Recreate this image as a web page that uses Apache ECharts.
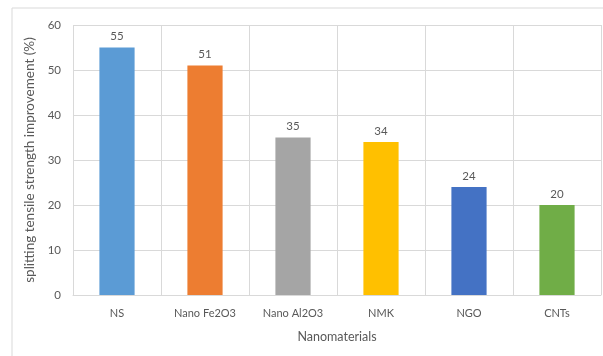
<!DOCTYPE html>
<html>
<head>
<meta charset="utf-8">
<script src="https://cdn.jsdelivr.net/npm/echarts@6/dist/echarts.min.js"></script>
<style>
  html, body { margin: 0; padding: 0; background: #fff; }
  #chart { width: 603px; height: 356px; }
</style>
</head>
<body>
<div id="chart"></div>
<script>
// Splitting tensile strength improvement by nanomaterial
const categories = ['NS', 'Nano Fe2O3', 'Nano Al2O3', 'NMK', 'NGO', 'CNTs'];
const improvement = [55, 51, 35, 34, 24, 20];
const barColors = ['#5B9BD5', '#ED7D31', '#A5A5A5', '#FFC000', '#4472C4', '#70AD47'];
const yTicks = { min: 0, max: 60, interval: 10 };

const font = 'Lato, "Open Sans", sans-serif';
const textColor = '#595959';
const gridColor = '#D9D9D9';

const chart = echarts.init(document.getElementById('chart'), null, { renderer: 'canvas' });

chart.setOption({
  animation: false,
  backgroundColor: '#ffffff',
  graphic: [{
    type: 'rect',
    shape: { x: 12, y: 8, width: 640, height: 400 },
    style: { fill: 'none', stroke: gridColor, lineWidth: 1 },
    silent: true,
    z: -1
  }],
  grid: { left: 73, right: 2, top: 25, bottom: 61 },
  xAxis: {
    type: 'category',
    data: categories,
    name: 'Nanomaterials',
    nameLocation: 'middle',
    nameGap: 35,
    nameTextStyle: { color: textColor, fontFamily: font, fontSize: 12.5 },
    axisLine: { show: true, lineStyle: { color: gridColor, width: 1 } },
    axisTick: { show: false },
    axisLabel: { color: textColor, fontFamily: font, fontSize: 11, margin: 13 },
    splitLine: { show: true, lineStyle: { color: gridColor, width: 1 } }
  },
  yAxis: {
    type: 'value',
    min: yTicks.min,
    max: yTicks.max,
    interval: yTicks.interval,
    name: 'splitting tensile strength improvement (%)',
    nameLocation: 'middle',
    nameGap: 28,
    nameTextStyle: { color: textColor, fontFamily: font, fontSize: 13.5 },
    axisLine: { show: false },
    axisTick: { show: false },
    axisLabel: { color: textColor, fontFamily: font, fontSize: 11.5, margin: 12 },
    splitLine: { show: true, lineStyle: { color: gridColor, width: 1 } }
  },
  series: [{
    type: 'bar',
    data: improvement.map((v, i) => ({
      value: v,
      itemStyle: { color: barColors[i] }
    })),
    barWidth: '40%',
    label: {
      show: true,
      position: 'top',
      distance: 5,
      color: textColor,
      fontFamily: font,
      fontSize: 11.5
    }
  }]
});
</script>
</body>
</html>
